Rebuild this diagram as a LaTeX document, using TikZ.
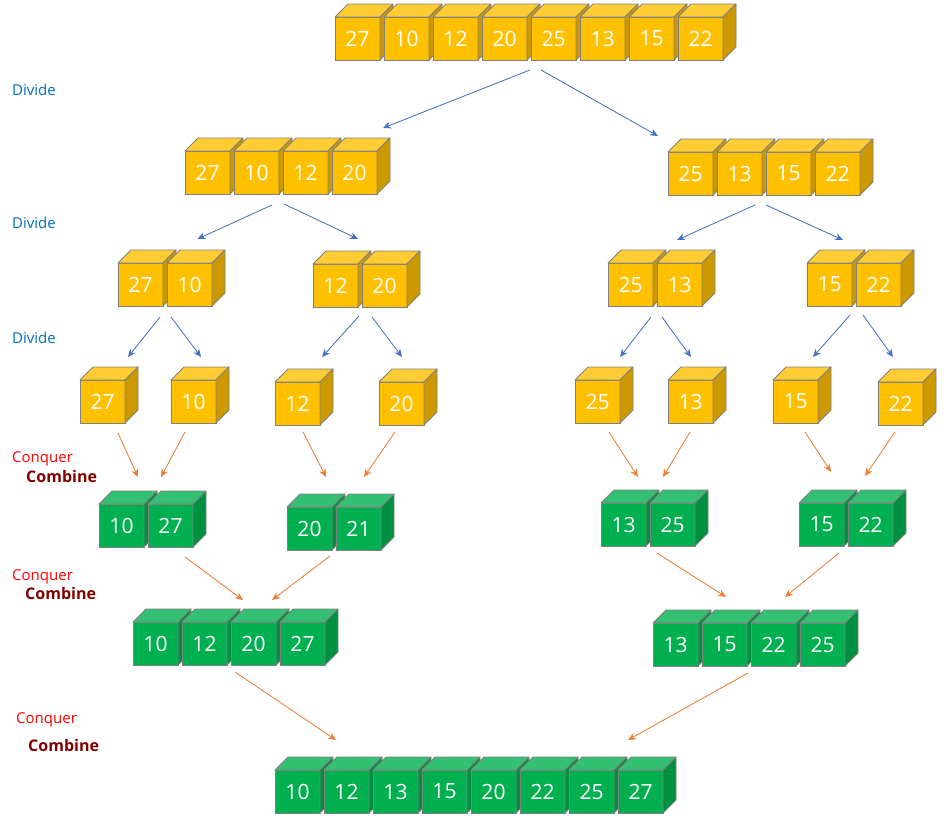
\documentclass[tikz,border=0pt]{standalone}
\usepackage{fontspec}
\setmainfont{Open Sans}
\usepackage{tikz}
\usetikzlibrary{arrows.meta,positioning,calc}
\definecolor{yelfront}{RGB}{255,192,0}
\definecolor{yeltop}{RGB}{255,204,51}
\definecolor{yelside}{RGB}{204,154,0}
\definecolor{grnfront}{RGB}{0,176,80}
\definecolor{grntop}{RGB}{51,192,115}
\definecolor{grnside}{RGB}{0,145,64}
\definecolor{edgegray}{RGB}{128,128,128}
\definecolor{divblue}{RGB}{68,114,196}
\definecolor{conorange}{RGB}{237,125,49}
\definecolor{labelblue}{RGB}{0,112,192}
\definecolor{labelred}{RGB}{255,0,0}
\definecolor{labelmaroon}{RGB}{128,0,0}

\newcommand{\cubedepth}{13}
% one cube: name, placement, colour set, value
\newcommand{\drawcube}[4]{%
  \node[cube, fill=#3front, #2] (#1) {#4};
  \filldraw[cubeedge, fill=#3top] (#1.north west) -- ++(\cubedepth,-\cubedepth)
    -- ($(#1.north east)+(\cubedepth,-\cubedepth)$) -- (#1.north east) -- cycle;
  \filldraw[cubeedge, fill=#3side] (#1.north east) -- ++(\cubedepth,-\cubedepth)
    -- ($(#1.south east)+(\cubedepth,-\cubedepth)$) -- (#1.south east) -- cycle;
}
% a row of cubes: prefix, x, y, colour set, values
\newcommand{\cuberow}[5]{%
  \foreach \v [count=\i] in {#5} {
    \drawcube{#1\i}{anchor=north west, at={(#2+49*\i-49,#3)}}{#4}{\v}
  }
}

\begin{document}
\begin{tikzpicture}[
    x=1pt, y=-1pt,
    >={Stealth[length=8pt,width=7pt]},
    cube/.style={rectangle, draw=edgegray, line width=0.8pt, minimum width=45pt, minimum height=43pt,
      inner sep=0pt, outer sep=0pt, text=white, font=\fontsize{21}{25}\selectfont},
    cubeedge/.style={draw=edgegray, line width=0.8pt, line join=round},
    divarrow/.style={->, draw=divblue, fill=divblue, line width=0.8pt},
    conarrow/.style={->, draw=conorange, fill=conorange, line width=0.8pt},
    divlabel/.style={anchor=west, inner sep=0pt, text=labelblue, font=\fontsize{15}{18}\selectfont},
    conlabel/.style={anchor=west, inner sep=0pt, text=labelred, font=\fontsize{15}{18}\selectfont},
    comlabel/.style={anchor=west, inner sep=0pt, text=labelmaroon, font=\fontsize{16}{19}\selectfont\bfseries}
]
    \useasboundingbox (0,0) rectangle (947,819);

    % divide
    \cuberow{src}{335}{17}{yel}{27,10,12,20,25,13,15,22}
    \cuberow{hl}{185}{151}{yel}{27,10,12,20}
    \cuberow{hr}{668}{152}{yel}{25,13,15,22}
    \cuberow{qa}{118}{263}{yel}{27,10}
    \cuberow{qb}{313}{264}{yel}{12,20}
    \cuberow{qc}{608}{263}{yel}{25,13}
    \cuberow{qd}{807}{263}{yel}{15,22}
    \drawcube{s1}{anchor=north west, at={(80,380)}}{yel}{27}
    \drawcube{s2}{anchor=north west, at={(171,380)}}{yel}{10}
    \drawcube{s3}{anchor=north west, at={(275,382)}}{yel}{12}
    \drawcube{s4}{anchor=north west, at={(379,382)}}{yel}{20}
    \drawcube{s5}{anchor=north west, at={(575,380)}}{yel}{25}
    \drawcube{s6}{anchor=north west, at={(668,380)}}{yel}{13}
    \drawcube{s7}{anchor=north west, at={(773,380)}}{yel}{15}
    \drawcube{s8}{anchor=north west, at={(878,382)}}{yel}{22}

    % conquer and combine
    \cuberow{ma}{99}{504}{grn}{10,27}
    \cuberow{mb}{287}{507}{grn}{20,21}
    \cuberow{mc}{601}{503}{grn}{13,25}
    \cuberow{md}{799}{503}{grn}{15,22}
    \cuberow{ml}{133}{622}{grn}{10,12,20,27}
    \cuberow{mr}{653}{623}{grn}{13,15,22,25}
    \cuberow{res}{275}{770}{grn}{10,12,13,15,20,22,25,27}

    \node (div1) [divlabel] at (12,90) {Divide};
    \node (div2) [divlabel] at (12,223) {Divide};
    \node (div3) [divlabel] at (12,338) {Divide};
    \node (con1) [conlabel] at (12,459) {Conquer};
    \node (com1) [comlabel] at (26,476) {Combine};
    \node (con2) [conlabel] at (12,577) {Conquer};
    \node (com2) [comlabel] at (25,593) {Combine};
    \node (con3) [conlabel] at (16,720) {Conquer};
    \node (com3) [comlabel] at (28,745) {Combine};

    \draw[divarrow] ($(src4.south east)+(3,10)$) -- ($(hl4.north east)+(6,-23)$);
    \draw[divarrow] ($(src5.south west)+(10,10)$) -- ($(hr1.north west)+(-10,-16)$);
    \draw[divarrow] ($(hl2.south east)+(-7,11)$) -- ($(qa2.north)+(8,-24)$);
    \draw[divarrow] ($(hl3.south west)+(1,10)$) -- ($(qb2.north west)+(-4,-25)$);
    \draw[divarrow] ($(hr2.south east)+(-7,10)$) -- ($(qc2.north west)+(20,-23)$);
    \draw[divarrow] ($(hr3.south west)+(0,10)$) -- ($(qd2.north west)+(-13,-23)$);
    \draw[divarrow] ($(qa1.south east)+(-3,11)$) -- ($(s1.north east)+(3,-23)$);
    \draw[divarrow] ($(qa2.south west)+(4,11)$) -- ($(s2.north)+(7.5,-23)$);
    \draw[divarrow] ($(qb1.south east)+(1,9)$) -- ($(s3.north east)+(2,-25)$);
    \draw[divarrow] ($(qb2.south west)+(10,10)$) -- ($(s4.north)+(0.5,-25)$);
    \draw[divarrow] ($(qc1.south east)+(-2,11)$) -- ($(s5.north east)+(0,-23)$);
    \draw[divarrow] ($(qc2.south west)+(5,11)$) -- ($(s6.north)+(0.5,-23)$);
    \draw[divarrow] ($(qd1.south east)+(-2,9)$) -- ($(s7.north east)+(-5,-23)$);
    \draw[divarrow] ($(qd2.south west)+(7,9)$) -- ($(s8.north)+(-7.5,-25)$);

    \draw[conarrow] ($(s1.south east)+(-7,10)$) -- ($(ma1.north east)+(-6,-27)$);
    \draw[conarrow] ($(s2.south)+(-8.5,9)$) -- ($(ma2.north west)+(13,-27)$);
    \draw[conarrow] ($(s3.south)+(5.5,7)$) -- ($(mb1.north east)+(-6,-30)$);
    \draw[conarrow] ($(s4.south)+(-6.5,7)$) -- ($(mb2.north)+(5.5,-30)$);
    \draw[conarrow] ($(s5.south east)+(-11,9)$) -- ($(mc1.north east)+(-8,-26)$);
    \draw[conarrow] ($(s6.south)+(-0.5,9)$) -- ($(mc2.north west)+(13,-26)$);
    \draw[conarrow] ($(s7.south east)+(-13,9)$) -- ($(md1.north east)+(-13,-31)$);
    \draw[conarrow] ($(s8.south)+(-5.5,7)$) -- ($(md2.north west)+(17,-27)$);
    \draw[conarrow] ($(ma2.south east)+(-8,10)$) -- ($(ml3.north west)+(12,-22)$);
    \draw[conarrow] ($(mb2.south west)+(-6,6)$) -- ($(ml3.north east)+(-4,-22)$);
    \draw[conarrow] ($(mc2.south west)+(7,7)$) -- ($(mr2.north)+(1.5,-26)$);
    \draw[conarrow] ($(md1.south east)+(-5,7)$) -- ($(mr3.north east)+(-11,-26)$);
    \draw[conarrow] ($(ml3.south west)+(4,7)$) -- ($(res2.north)+(-10.5,-30)$);
    \draw[conarrow] ($(mr2.south east)+(1,7)$) -- ($(res8.north west)+(10,-30)$);

\end{tikzpicture}
\end{document}
